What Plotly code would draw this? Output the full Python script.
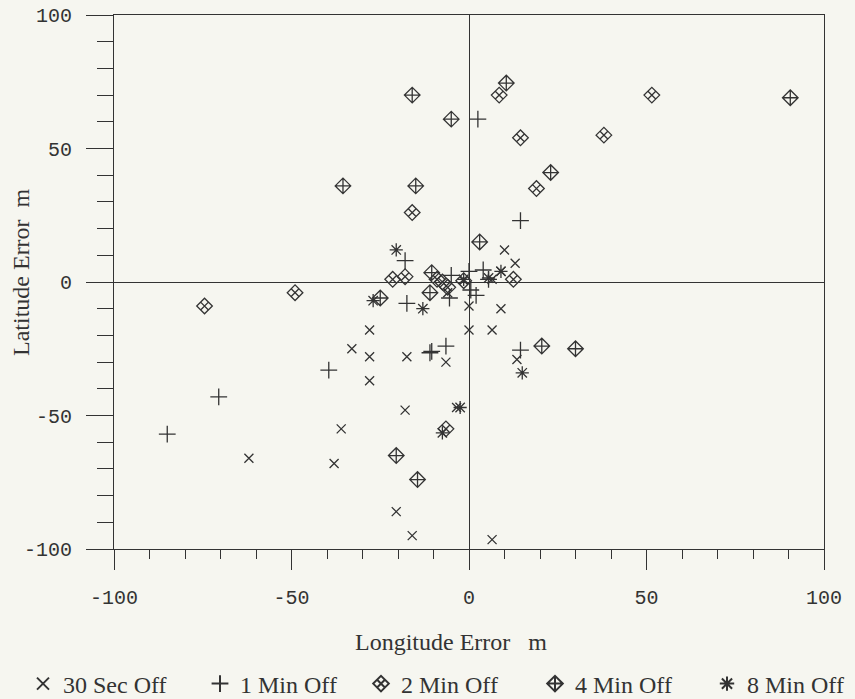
import plotly.graph_objects as go

# ---- data ----
sec30_x = [-62, -38, -36, -33, -28, -28, -28, -17.5, -18, -20.5, -16, 6.5, -6.5, -3.5, 0, 0, 6.5, 9, 13.5, 10, 13, 9, 6.5, -6]
sec30_y = [-66, -68, -55, -25, -18, -28, -37, -28, -48, -86, -95, -96.5, -30, -47, -9, -18, -18, -10, -29, 12, 7, 4, 1, -4]

min1_x = [-85, -70.5, -39.5, -17.5, -18, -10.5, -11, -6.5, 14.5, 14.5, 2.5, -5, -5.5, 0, 0.5, 2, 4, 5.5]
min1_y = [-57, -43, -33, -8, 8, -26, -26.5, -24, -25.5, 23, 61, 2.5, -6, 4, -3, -5, 4.5, 1]

min2_x = [-74.5, -49, -21.5, -18, -16, -9, -7.5, -6, -1.5, 8.5, 14.5, 19, 38, 51.5, 12.5, -6.5]
min2_y = [-9, -4, 1, 2, 26, 1, 0, -2, 0.5, 70, 54, 35, 55, 70, 1, -55]

min4_x = [-35.5, -15, -16, -5, 10.5, 23, 3, 90.5, -10.5, -11, -25, 20.5, 30, -20.5, -14.5]
min4_y = [36, 36, 70, 61, 74.5, 41, 15, 69, 3.5, -4, -6, -24, -25, -65, -74]

min8_x = [-20.5, -27, -13, -2.5, 15, 5.5, 9, -7.5, -1.5]
min8_y = [12, -7, -10, -47, -34, 1.5, 4, -56.5, 1]

series_names = ["30 Sec Off", "1 Min Off", "2 Min Off", "4 Min Off", "8 Min Off"]

tick_vals = [-100, -50, 0, 50, 100]
tick_text = ["-100", "-50", "0", "50", "100"]

x_title = "Longitude Error   m"
y_title = "Latitude Error  m"

# ---- styling ----
ink = "#333333"
bg = "#f6f6f0"
serif = "Liberation Serif, Times New Roman, serif"
mono = "Liberation Mono, Courier New, monospace"

W, H = 855, 699
plot_left, plot_right, plot_top, plot_bottom = 114, 824, 15, 549
margin = dict(l=plot_left, r=W - plot_right, t=plot_top, b=H - plot_bottom,
              autoexpand=False)
pw = plot_right - plot_left
ph = plot_bottom - plot_top

symbols = ["x-thin-open", "cross-thin-open", "diamond-x-open", "diamond-cross-open", "asterisk-open"]
sizes = [9, 12, 12, 12, 11]
legend_text_left = [63, 240, 401, 575, 747]   # page px where each legend label starts
legend_ids = ["legend", "legend2", "legend3", "legend4", "legend5"]

xs_all = [sec30_x, min1_x, min2_x, min4_x, min8_x]
ys_all = [sec30_y, min1_y, min2_y, min4_y, min8_y]

fig = go.Figure()
for xs, ys, sym, sz, name, lid in zip(xs_all, ys_all, symbols, sizes, series_names, legend_ids):
    fig.add_trace(go.Scatter(
        x=xs, y=ys, mode="markers", name=name, legend=lid,
        marker=dict(symbol=sym, size=sz, color=ink, line=dict(color=ink, width=1.3)),
    ))

axis_common = dict(
    range=[-100, 100],
    tickmode="array", tickvals=tick_vals, ticktext=tick_text,
    ticks="outside", tickcolor=ink, tickwidth=1.2,
    showline=True, linecolor=ink, linewidth=1.2, mirror=True,
    showgrid=False,
    zeroline=True, zerolinecolor=ink, zerolinewidth=1.2,
    tickfont=dict(family=mono, size=20, color=ink),
    ticklabeloverflow="allow",
)

fig.update_xaxes(**axis_common, ticklen=20, ticklabelstandoff=10,
                 minor=dict(dtick=10, tick0=0, ticks="outside", ticklen=9,
                            tickcolor=ink, tickwidth=1.2, showgrid=False))
fig.update_yaxes(**axis_common, ticklen=27, ticklabelstandoff=10,
                 minor=dict(dtick=10, tick0=0, ticks="outside", ticklen=16,
                            tickcolor=ink, tickwidth=1.2, showgrid=False))

legend_y = (plot_bottom - 684) / ph
legends = {}
for lid, tl in zip(legend_ids, legend_text_left):
    legends[lid] = dict(
        orientation="h", x=(tl - 40 - plot_left) / pw, xanchor="left",
        y=legend_y, yanchor="middle",
        font=dict(family=serif, size=24, color=ink),
        bgcolor="rgba(0,0,0,0)", itemsizing="constant",
    )

fig.update_layout(
    width=W, height=H,
    margin=margin,
    paper_bgcolor=bg, plot_bgcolor=bg,
    showlegend=True,
    annotations=[
        dict(text=x_title, xref="paper", yref="paper", x=(451 - plot_left) / pw,
             y=(plot_bottom - 642) / ph,
             xanchor="center", yanchor="middle", showarrow=False,
             font=dict(family=serif, size=24, color=ink)),
        dict(text=y_title, xref="paper", yref="paper", x=(21 - plot_left) / pw,
             y=(plot_bottom - 272) / ph,
             xanchor="center", yanchor="middle", showarrow=False, textangle=-90,
             font=dict(family=serif, size=24, color=ink)),
    ],
    **legends,
)

fig.write_html("out.html",
               config={"displayModeBar": False},
               post_script="document.body.style.margin='0px';document.body.style.overflow='hidden';")
